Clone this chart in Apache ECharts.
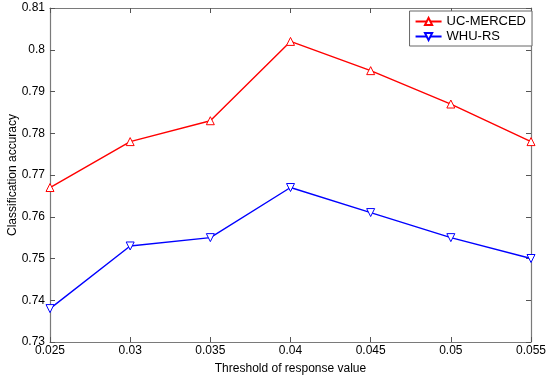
<!DOCTYPE html>
<html><head><meta charset="utf-8">
<script src="https://cdn.jsdelivr.net/npm/echarts@6/dist/echarts.min.js"></script>
<style>html,body{margin:0;padding:0;background:#fff}#c{width:550px;height:378px}</style>
</head><body><div id="c"></div>
<script>
const thresholds = [0.025, 0.03, 0.035, 0.04, 0.045, 0.05, 0.055];
const ucMerced = [0.767, 0.778, 0.783, 0.802, 0.795, 0.787, 0.778];
const whuRs = [0.738, 0.753, 0.755, 0.767, 0.761, 0.755, 0.750];
const xTicks = ['0.025','0.03','0.035','0.04','0.045','0.05','0.055'];

const font = 'Liberation Sans, Arial, sans-serif';
const axisCol = '#7a7a7a';
const chart = echarts.init(document.getElementById('c'));
const baseX = {
  type: 'value', min: 0.025, max: 0.055, interval: 0.005,
  axisLine: {show: true, lineStyle: {color: axisCol, width: 1.2}},
  axisTick: {show: true, inside: true, length: 5, lineStyle: {color: '#555'}},
  splitLine: {show: false}
};
const baseY = {
  type: 'value', min: 0.73, max: 0.81, interval: 0.01,
  axisLine: {show: true, lineStyle: {color: axisCol, width: 1.2}},
  axisTick: {show: true, inside: true, length: 5, lineStyle: {color: '#555'}},
  splitLine: {show: false}
};
function mk(name, vals, color, rot) {
  return {
    name, type: 'line',
    data: thresholds.map((x, i) => [x, vals[i]]),
    symbol: 'triangle', symbolSize: 8, symbolRotate: rot,
    lineStyle: {color, width: 1.4},
    itemStyle: {color: '#fff', borderColor: color, borderWidth: 1},
    color: color,
    animation: false
  };
}
chart.setOption({
  animation: false,
  grid: {left: 50, right: 19, top: 8, bottom: 36, outerBoundsMode: 'none', containLabel: false},
  legend: {
    right: 18, top: 11, orient: 'vertical',
    backgroundColor: '#fff', borderColor: '#666', borderWidth: 1,
    padding: [4, 6, 3, 5], itemGap: 2, itemWidth: 26, itemHeight: 9,
    textStyle: {fontFamily: font, fontSize: 13, color: '#000'},
    data: ['UC-MERCED', 'WHU-RS']
  },
  xAxis: [
    Object.assign({}, baseX, {
      position: 'bottom', name: 'Threshold of response value', nameLocation: 'middle', nameGap: 21,
      nameMoveOverlap: false,
      nameTextStyle: {fontFamily: font, fontSize: 12, color: '#000'},
      axisLabel: {fontFamily: font, fontSize: 12, color: '#000', margin: 3,
        formatter: v => xTicks[Math.round((v - 0.025) / 0.005)]}
    }),
    Object.assign({}, baseX, {position: 'top', axisLabel: {show: false}})
  ],
  yAxis: [
    Object.assign({}, baseY, {
      position: 'left', name: 'Classification accuracy', nameLocation: 'middle', nameGap: 31,
      nameMoveOverlap: false,
      nameTextStyle: {fontFamily: font, fontSize: 12, color: '#000'},
      axisLabel: {fontFamily: font, fontSize: 12, color: '#000', margin: 5,
        formatter: v => String(parseFloat(v.toFixed(2)))}
    }),
    Object.assign({}, baseY, {position: 'right', axisLabel: {show: false}})
  ],
  series: [mk('UC-MERCED', ucMerced, '#ff0000', 0), mk('WHU-RS', whuRs, '#0000ff', 180)]
});
</script></body></html>
